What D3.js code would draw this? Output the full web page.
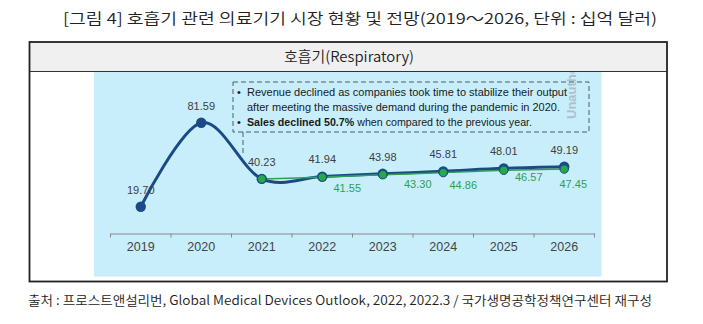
<!DOCTYPE html>
<html>
<head>
<meta charset="utf-8">
<style>
  body { margin: 0; background: #fff; font-family: "Liberation Sans", Arial, sans-serif; }
  .kr { font-family: "Noto Sans CJK KR", sans-serif; font-weight: 350; }
  .val { font-size: 11px; fill: #404040; text-anchor: middle; }
  .gval { font-size: 11px; fill: #2f9e57; text-anchor: middle; }
  .note { font-size: 11px; fill: #1a1a1a; }
</style>
<script src="https://d3js.org/d3.v7.min.js"></script>
</head>
<body>
<div id="chart"></div>
<script>
var years = [2019, 2020, 2021, 2022, 2023, 2024, 2025, 2026]
var actual = [19.70, 81.59, 40.23, 41.94, 43.98, 45.81, 48.01, 49.19]
var revised = [null, null, 40.23, 41.55, 43.30, 44.86, 46.57, 47.45]
var noteLines = [
  [{t: "Revenue declined as companies took time to stabilize their output"}],
  [{t: "after meeting the massive demand during the pandemic in 2020."}],
  [{t: "Sales declined 50.7%", b: true}, {t: " when compared to the previous year."}]
]
var title = "[그림 4] 호흡기 관련 의료기기 시장 현황 및 전망(2019～2026, 단위 : 십억 달러)"
var subtitle = "호흡기(Respiratory)"
var source = "출처 : 프로스트앤설리번, Global Medical Devices Outlook, 2022, 2022.3 / 국가생명공학정책연구센터 재구성"

// hand placed green labels in the original
var greenNudge = [null, null, null, [25, 11], [35, 9], [20, 12], [25, 6], [9, 15]]

var W = 703, H = 324

var svg = d3.select("#chart").append("svg")
  .attr("width", W).attr("height", H)

svg.append("text").attr("class", "kr")
  .attr("x", 63).attr("y", 19).attr("dy", "0.35em")
  .attr("font-size", 15).attr("fill", "#222")
  .attr("textLength", 594).attr("lengthAdjust", "spacingAndGlyphs")
  .text(title)

// frame
svg.append("rect").attr("x", 29.5).attr("y", 42).attr("width", 637.5).attr("height", 29.5)
  .attr("fill", "#f0f0f0")
svg.append("text").attr("class", "kr")
  .attr("x", 349).attr("y", 56.5).attr("dy", "0.35em").attr("text-anchor", "middle")
  .attr("font-size", 14.5).attr("fill", "#222")
  .attr("textLength", 130).attr("lengthAdjust", "spacingAndGlyphs")
  .text(subtitle)

svg.append("rect").attr("x", 94).attr("y", 72).attr("width", 507.5).attr("height", 204.5)
  .attr("fill", "#c8eefc")

svg.append("line").attr("x1", 29.5).attr("x2", 667).attr("y1", 71.5).attr("y2", 71.5)
  .attr("stroke", "#333").attr("stroke-width", 1.2)
svg.append("rect").attr("x", 29.5).attr("y", 42).attr("width", 637.5).attr("height", 239.5)
  .attr("fill", "none").attr("stroke", "#222").attr("stroke-width", 1.8)

// watermark
var clip = svg.append("clipPath").attr("id", "pc")
clip.append("rect").attr("x", 94).attr("y", 72.5).attr("width", 507.5).attr("height", 204)
svg.append("g").attr("clip-path", "url(#pc)")
  .append("text")
  .attr("transform", "translate(576,119) rotate(-90)")
  .attr("font-size", 13).attr("font-weight", "bold").attr("fill", "#aebfcc")
  .text("Unauthorized")

var x = d3.scaleBand().domain(years).range([110.5, 594.5]).padding(0)
var y = d3.scaleLinear().domain([0, 100]).range([233.5, 97.8])
var cx = function(d, i) { return x(years[i]) + x.bandwidth() / 2 }

// axis
var ax = svg.append("g").attr("transform", "translate(0,233.5)")
  .call(d3.axisBottom(x).tickSize(0).tickPadding(9))
ax.select(".domain").attr("stroke", "#8a8a8a")
ax.selectAll(".tick text").attr("font-size", 12.5).attr("fill", "#444")
  .attr("font-family", "Liberation Sans, Arial, sans-serif")
ax.selectAll(".edge")
  .data(years.map(function(d) { return x(d) }).concat([x.range()[1]]))
  .enter().append("line").attr("class", "edge")
  .attr("x1", function(d) { return d }).attr("x2", function(d) { return d })
  .attr("y1", 0).attr("y2", 4).attr("stroke", "#8a8a8a")

// annotation
var nb = svg.append("g")
nb.append("rect").attr("x", 233).attr("y", 82).attr("width", 356).attr("height", 50)
  .attr("fill", "none").attr("stroke", "#4b5b6b").attr("stroke-width", 1)
  .attr("stroke-dasharray", "5,3")
nb.append("line").attr("x1", 243).attr("x2", 243).attr("y1", 132).attr("y2", 153)
  .attr("stroke", "#4b5b6b").attr("stroke-dasharray", "5,3")
var lineW = [320, 313, 285]
noteLines.forEach(function(parts, i) {
  var yy = 92 + i * 15
  nb.append("text").attr("class", "note").attr("x", 237).attr("y", yy).attr("dy", "0.35em")
    .text(i === 1 ? "" : "•")
  var t = nb.append("text").attr("class", "note").attr("x", 247).attr("y", yy).attr("dy", "0.35em")
    .attr("textLength", lineW[i]).attr("lengthAdjust", "spacingAndGlyphs")
  parts.forEach(function(p) {
    t.append("tspan").attr("font-weight", p.b ? "bold" : null).text(p.t)
  })
})

// lines
var smooth = d3.line()
  .defined(function(d) { return d != null })
  .x(cx).y(function(d) { return y(d) })
  .curve(d3.curveCatmullRom.alpha(0))

svg.append("path").datum(actual).attr("d", smooth)
  .attr("fill", "none").attr("stroke", "#1b4a86").attr("stroke-width", 3)
svg.append("path").datum(revised).attr("d", smooth)
  .attr("fill", "none").attr("stroke", "#2fa150").attr("stroke-width", 1.5)

svg.selectAll(".bdot").data(actual).enter().append("circle").attr("class", "bdot")
  .attr("cx", cx).attr("cy", function(d) { return y(d) }).attr("r", 5.2)
  .attr("fill", "#1b4a86")
svg.selectAll(".gdot").data(revised).enter()
  .filter(function(d) { return d != null }).append("circle").attr("class", "gdot")
  .attr("cx", function(d) { return x(years[revised.indexOf(d)]) + x.bandwidth() / 2 })
  .attr("cy", function(d) { return y(d) }).attr("r", 4.2)
  .attr("fill", "#27a84a").attr("stroke", "#1b4a86").attr("stroke-width", 1)

svg.selectAll(".val").data(actual).enter().append("text").attr("class", "val")
  .attr("x", cx).attr("y", function(d) { return y(d) - 17 }).attr("dy", "0.35em")
  .text(function(d) { return d.toFixed(2) })

revised.forEach(function(d, i) {
  if (d == null || !greenNudge[i]) return
  svg.append("text").attr("class", "gval")
    .attr("x", cx(d, i) + greenNudge[i][0]).attr("y", y(d) + greenNudge[i][1] + 0.5)
    .attr("dy", "0.35em").text(d.toFixed(2))
})

svg.append("text").attr("class", "kr")
  .attr("x", 28).attr("y", 300).attr("dy", "0.35em")
  .attr("font-size", 13).attr("fill", "#222")
  .attr("textLength", 624).attr("lengthAdjust", "spacingAndGlyphs")
  .text(source)
</script>
</body>
</html>
